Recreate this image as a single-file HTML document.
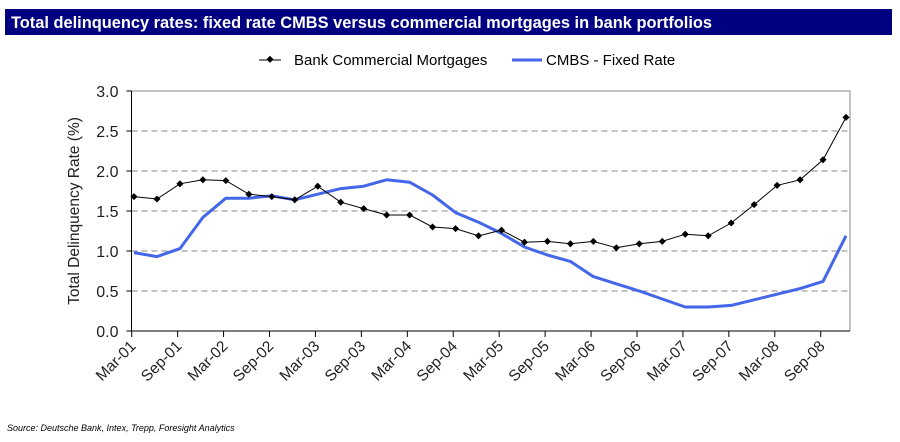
<!DOCTYPE html>
<html><head><meta charset="utf-8"><style>
body{margin:0;background:#fff;width:900px;height:442px;overflow:hidden;font-family:"Liberation Sans",sans-serif}
svg{display:block}
</style></head><body>
<svg id="c" width="900" height="442" xmlns="http://www.w3.org/2000/svg">
<rect x="5" y="9" width="887" height="26" fill="#000080"/>
<text x="11" y="28" fill="#fff" font-weight="bold" font-size="16.4">Total delinquency rates: fixed rate CMBS versus commercial mortgages in bank portfolios</text>
<g>
<g><line x1="259" y1="60" x2="281" y2="60" stroke="#000" stroke-width="1"/><rect x="267" y="57" width="5" height="5" transform="rotate(45 270 60)" fill="#000"/>
<text x="294" y="65" font-size="15">Bank Commercial Mortgages</text></g>
<g><line x1="512" y1="60" x2="542" y2="60" stroke="#4466e8" stroke-width="3"/>
<text x="546" y="65" font-size="15">CMBS - Fixed Rate</text></g>
</g>
<text transform="translate(79 211) rotate(-90)" text-anchor="middle" font-size="15.5" fill="#222">Total Delinquency Rate (%)</text>
<g id="plot"></g>
<text x="7" y="431" font-size="9" font-style="italic">Source: Deutsche Bank, Intex, Trepp, Foresight Analytics</text>
</svg>
<script>
const quarters=["Mar","Jun","Sep","Dec"];
const startYear=1;
const bankValues=[1.68,1.65,1.84,1.89,1.88,1.71,1.68,1.64,1.81,1.61,1.53,1.45,1.45,1.30,1.28,1.19,1.26,1.11,1.12,1.09,1.12,1.04,1.09,1.12,1.21,1.19,1.35,1.58,1.82,1.89,2.14,2.67];
const cmbsValues=[0.98,0.93,1.03,1.42,1.66,1.66,1.69,1.64,1.71,1.78,1.81,1.89,1.86,1.70,1.48,1.36,1.22,1.05,0.95,0.87,0.68,0.59,0.50,0.40,0.30,0.30,0.32,0.39,0.46,0.53,0.62,1.19];
const yTicks=[0,0.5,1.0,1.5,2.0,2.5,3.0];
const NS="http://www.w3.org/2000/svg";
const L=131.5,R=850,T=91,B=331;
const n=bankValues.length;
function x(i){return 134+i*(846-134)/(n-1);}
function y(v){return B-(v/3)*(B-T);}
const g=document.getElementById('plot');
function mk(t,a,p){const e=document.createElementNS(NS,t);for(const k in a)e.setAttribute(k,a[k]);(p||g).appendChild(e);return e;}
yTicks.forEach(v=>{
  if(v>0&&v<3){const l=mk('line',{x1:L,x2:R,y1:y(v),y2:y(v),stroke:'#888','stroke-dasharray':'6,4','stroke-width':1});
  
  }
  const tk=mk('line',{x1:L-5,x2:L,y1:y(v),y2:y(v),stroke:'#000'});
  
  
  const t=mk('text',{x:L-13,y:y(v)+6,'text-anchor':'end','font-size':'16',fill:'#222'});
  t.textContent=v.toFixed(1);
  
  
});
const fr=mk('path',{d:`M${L} ${T}H${R}V${B}`,fill:'none',stroke:'#888'});


const ya=mk('line',{x1:L,x2:L,y1:T,y2:B,stroke:'#000'});


const xa=mk('line',{x1:L,x2:R,y1:B,y2:B,stroke:'#000'});


for(let i=0;i<n;i+=2){
  const tx=x(i)-2.3;
  const tk=mk('line',{x1:tx,x2:tx,y1:B,y2:B+6,stroke:'#000'});
  
  
  const yr=startYear+Math.floor(i/4);
  const lab=quarters[i%4]+'-'+String(yr).padStart(2,'0');
  const t=mk('text',{transform:`translate(${tx+5} ${B+16}) rotate(-45)`,'text-anchor':'end','font-size':'15.5',fill:'#222'});
  t.textContent=lab;
  
  
}
const cp=mk('polyline',{points:cmbsValues.map((v,i)=>x(i)+','+y(v)).join(' '),fill:'none',stroke:'#4466e8','stroke-width':3,'stroke-linejoin':'round'});


const bp=mk('polyline',{points:bankValues.map((v,i)=>x(i)+','+y(v)).join(' '),fill:'none',stroke:'#000','stroke-width':1});


bankValues.forEach((v,i)=>{
  const m=mk('rect',{x:x(i)-2.5,y:y(v)-2.5,width:5,height:5,fill:'#000',transform:`rotate(45 ${x(i)} ${y(v)})`});
  
  
});
</script>
</body></html>
